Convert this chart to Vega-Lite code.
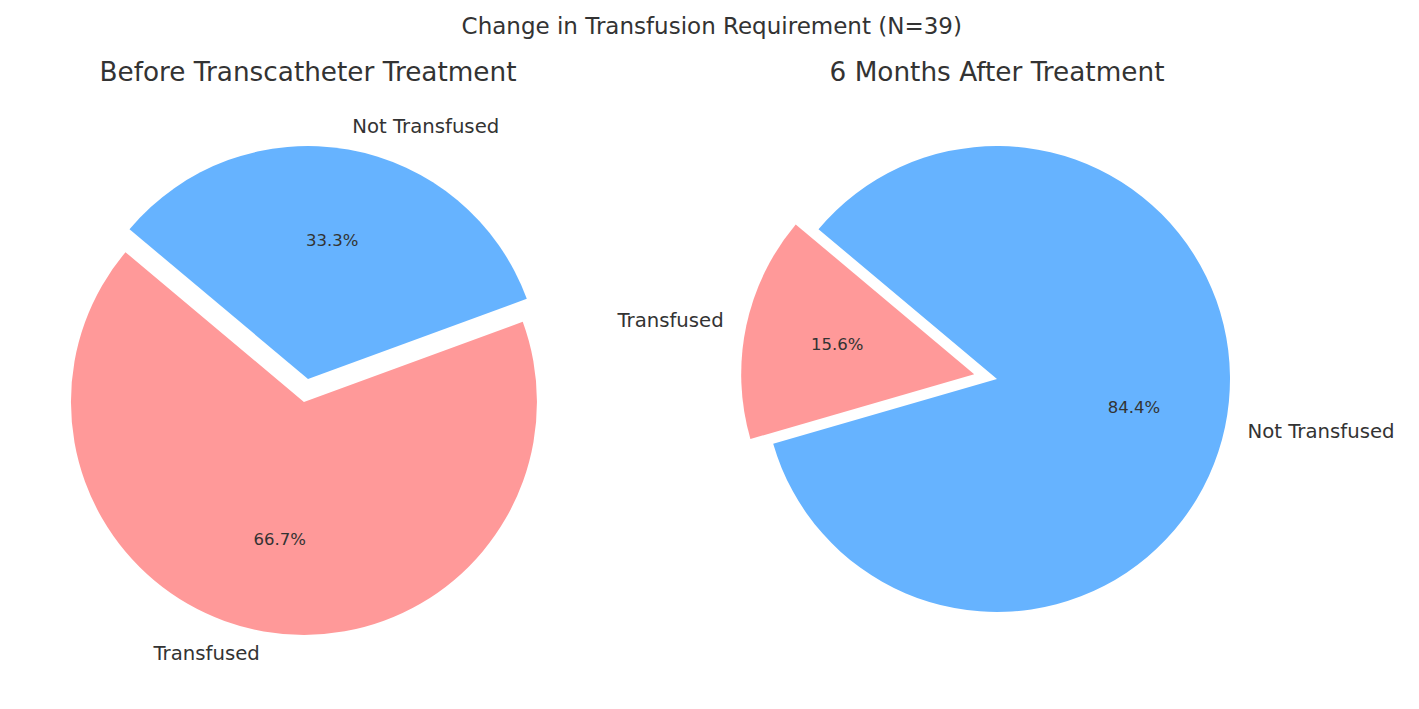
{
  "$schema": "https://vega.github.io/schema/vega-lite/v6.json",
  "padding": {"top": 15, "left": 0, "right": 0, "bottom": 0},
  "background": "white",
  "bounds": "flush",
  "title": {"text": "Change in Transfusion Requirement (N=39)", "fontSize": 23, "font": "DejaVu Sans", "fontWeight": "normal", "color": "#333333", "anchor": "middle", "dx": 14.5, "dy": 1, "offset": 22},
  "data": {"values": [
    {"phase": "Before", "status": "Transfused", "share": 0.667},
    {"phase": "Before", "status": "Not Transfused", "share": 0.333},
    {"phase": "After", "status": "Transfused", "share": 0.156},
    {"phase": "After", "status": "Not Transfused", "share": 0.844}
  ]},
  "spacing": 73,
  "config": {"view": {"stroke": null}, "text": {"font": "DejaVu Sans", "color": "#333333"}},
  "hconcat": [
    {
      "title": {"text": "Before Transcatheter Treatment", "fontSize": 26.3, "font": "DejaVu Sans", "fontWeight": "normal", "color": "#333333", "offset": 13},
      "width": 616, "height": 560,
      "transform": [{"filter": "datum.phase === 'Before'"}],
      "encoding": {
        "theta": {"field": "share", "type": "quantitative", "stack": true, "scale": {"domain": [0, 1], "range": [-0.87266, 5.41052]}},
        "order": {"field": "status", "sort": "ascending"},
        "detail": {"field": "status"}
      },
      "layer": [
        {"mark": {"type": "arc", "radius": 233, "color": "#66b3ff"}, "encoding": {"opacity": {"condition": {"test": "datum.status === 'Not Transfused'", "value": 1}, "value": 0}}},
        {"mark": {"type": "arc", "radius": 233, "color": "#ff9999", "xOffset": -4.05, "yOffset": 22.95}, "encoding": {"opacity": {"condition": {"test": "datum.status === 'Transfused'", "value": 1}, "value": 0}}},
        {"mark": {"type": "text", "radius": 256, "align": "left", "baseline": "middle", "fontSize": 19.7, "color": "#333333"}, "encoding": {"text": {"field": "status"}, "opacity": {"condition": {"test": "datum.status === 'Not Transfused'", "value": 1}, "value": 0}}},
        {"mark": {"type": "text", "radius": 256, "align": "right", "baseline": "middle", "fontSize": 19.7, "color": "#333333", "xOffset": -4.05, "yOffset": 22.95}, "encoding": {"text": {"field": "status"}, "opacity": {"condition": {"test": "datum.status === 'Transfused'", "value": 1}, "value": 0}}},
        {"mark": {"type": "text", "radius": 140, "align": "center", "baseline": "middle", "fontSize": 16.5, "color": "#333333"}, "encoding": {"text": {"field": "share", "format": ".1%"}, "opacity": {"condition": {"test": "datum.status === 'Not Transfused'", "value": 1}, "value": 0}}},
        {"mark": {"type": "text", "radius": 140, "align": "center", "baseline": "middle", "fontSize": 16.5, "color": "#333333", "xOffset": -4.05, "yOffset": 22.95}, "encoding": {"text": {"field": "share", "format": ".1%"}, "opacity": {"condition": {"test": "datum.status === 'Transfused'", "value": 1}, "value": 0}}}
      ]
    },
    {
      "title": {"text": "6 Months After Treatment", "fontSize": 26.3, "font": "DejaVu Sans", "fontWeight": "normal", "color": "#333333", "offset": 13},
      "width": 616, "height": 560,
      "transform": [{"filter": "datum.phase === 'After'"}],
      "encoding": {
        "theta": {"field": "share", "type": "quantitative", "stack": true, "scale": {"domain": [0, 1], "range": [-0.87266, 5.41052]}},
        "order": {"field": "status", "sort": "ascending"},
        "detail": {"field": "status"}
      },
      "layer": [
        {"mark": {"type": "arc", "radius": 233, "color": "#66b3ff"}, "encoding": {"opacity": {"condition": {"test": "datum.status === 'Not Transfused'", "value": 1}, "value": 0}}},
        {"mark": {"type": "arc", "radius": 233, "color": "#ff9999", "xOffset": -22.8, "yOffset": -4.81}, "encoding": {"opacity": {"condition": {"test": "datum.status === 'Transfused'", "value": 1}, "value": 0}}},
        {"mark": {"type": "text", "radius": 256, "align": "left", "baseline": "middle", "fontSize": 19.7, "color": "#333333"}, "encoding": {"text": {"field": "status"}, "opacity": {"condition": {"test": "datum.status === 'Not Transfused'", "value": 1}, "value": 0}}},
        {"mark": {"type": "text", "radius": 256, "align": "right", "baseline": "middle", "fontSize": 19.7, "color": "#333333", "xOffset": -22.8, "yOffset": -4.81}, "encoding": {"text": {"field": "status"}, "opacity": {"condition": {"test": "datum.status === 'Transfused'", "value": 1}, "value": 0}}},
        {"mark": {"type": "text", "radius": 140, "align": "center", "baseline": "middle", "fontSize": 16.5, "color": "#333333"}, "encoding": {"text": {"field": "share", "format": ".1%"}, "opacity": {"condition": {"test": "datum.status === 'Not Transfused'", "value": 1}, "value": 0}}},
        {"mark": {"type": "text", "radius": 140, "align": "center", "baseline": "middle", "fontSize": 16.5, "color": "#333333", "xOffset": -22.8, "yOffset": -4.81}, "encoding": {"text": {"field": "share", "format": ".1%"}, "opacity": {"condition": {"test": "datum.status === 'Transfused'", "value": 1}, "value": 0}}}
      ]
    }
  ]
}
